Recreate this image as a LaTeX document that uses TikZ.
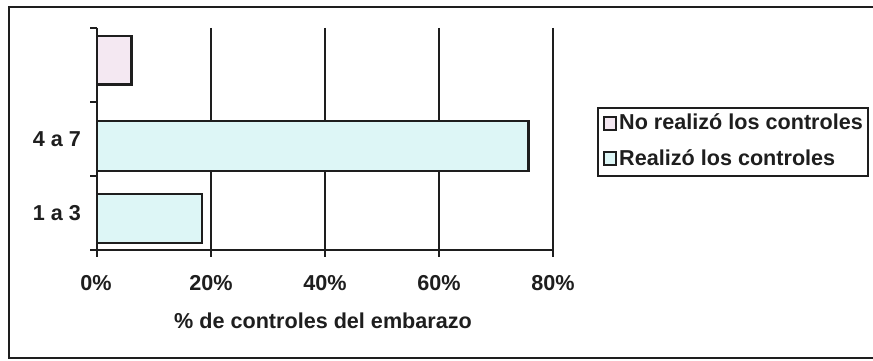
\documentclass[tikz,border=0pt]{standalone}
\usepackage{fontspec}
\setmainfont{Liberation Sans}
\definecolor{pinkfill}{HTML}{F4E8F2}
\definecolor{cyanfill}{HTML}{DDF6F6}
\definecolor{ink}{HTML}{1E1E1E}
\begin{document}
\begin{tikzpicture}[x=1pt,y=-1pt,
  lbl/.style={font=\fontsize{21.6}{24}\selectfont\bfseries, text=ink, inner sep=0pt},
  barbox/.style={draw=ink, line width=2.6pt},
  gridline/.style={draw=ink, line width=2.3pt},
  frameline/.style={draw=ink, line width=2.5pt}]
\useasboundingbox (0,0) rectangle (873,361);
% outer frame
\draw[frameline] (880,7) -- (9,7) -- (9,358) -- (880,358);
% grid lines
\foreach \xx in {211,325,439,553} \draw[gridline] (\xx,28) -- (\xx,250);
% bars
\draw[barbox, fill=pinkfill] (97,36) rectangle (131.5,84.5);
\draw[barbox, fill=cyanfill] (97,121) rectangle (528.5,171);
\draw[barbox, fill=cyanfill] (97,194) rectangle (202,243);
% axes
\draw[gridline] (97,28) -- (97,250) -- (553,250);
\foreach \yy in {28,102,176,250} \draw[gridline] (90,\yy) -- (97,\yy);
\foreach \xx in {97,211,325,439,553} \draw[gridline] (\xx,250) -- (\xx,257);
% category labels
\node[lbl] (c47) at (57,139) {4 a 7};
\node[lbl] (c13) at (57,213) {1 a 3};
% tick labels
\node[lbl] (t0) at (96,283) {0\%};
\node[lbl] (t20) at (211,283) {20\%};
\node[lbl] (t40) at (325,283) {40\%};
\node[lbl] (t60) at (439,283) {60\%};
\node[lbl] (t80) at (553,283) {80\%};
\node[lbl] (xtitle) at (323,321) {\% de controles del embarazo};
% legend
\draw[frameline] (598,108) rectangle (868,176);
\draw[draw=ink, line width=2pt, fill=pinkfill] (604,117) rectangle (616,130);
\draw[draw=ink, line width=2pt, fill=cyanfill] (604,152) rectangle (616,165);
\node[lbl, anchor=west] (lg1) at (619,122) {No realizó los controles};
\node[lbl, anchor=west] (lg2) at (619,158) {Realizó los controles};
\end{tikzpicture}
\end{document}
